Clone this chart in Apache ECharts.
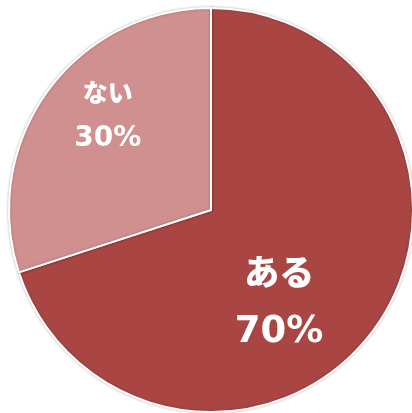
<!DOCTYPE html>
<html>
<head>
<meta charset="utf-8">
<script src="https://cdn.jsdelivr.net/npm/echarts@6/dist/echarts.min.js"></script>
<style>
  html, body { margin: 0; padding: 0; background: #fff; }
  #chart { width: 412px; height: 413px; }
</style>
</head>
<body>
<div id="chart"></div>
<script>
// 回答データ
const names = ['ある', 'ない']
const values = [70, 30]
const colors = ['#A94644', '#D19090']

const chart = echarts.init(document.getElementById('chart'))

// ラベルの大きさと位置（スライスごと）
const labelStyles = [
  { offset: [-16, 31], nameSize: 35, valueSize: 37, nameLH: 60, valueLH: 60 },
  { offset: [-19, -33], nameSize: 25, valueSize: 28, nameLH: 46, valueLH: 46 }
]

const seriesData = names.map((n, i) => {
  const s = labelStyles[i]
  return {
    name: n,
    value: values[i],
    itemStyle: { color: colors[i] },
    label: {
      offset: s.offset,
      rich: {
        n: { fontSize: s.nameSize, lineHeight: s.nameLH, color: '#fff', fontWeight: 900, fontFamily: '"Noto Sans CJK JP", sans-serif' },
        v: { fontSize: s.valueSize, lineHeight: s.valueLH, color: '#fff', fontWeight: 'bold', fontFamily: '"DejaVu Sans", sans-serif' }
      }
    }
  }
})

const option = {
  animation: false,
  series: [
    {
      type: 'pie',
      center: [211, 210],
      radius: [0, 202],
      startAngle: 90,
      clockwise: true,
      itemStyle: {
        borderColor: '#fff',
        borderWidth: 2,
        shadowColor: 'rgba(0,0,0,0.25)',
        shadowBlur: 3
      },
      label: {
        show: true,
        position: 'inside',
        formatter: (p) => '{n|' + p.name + '}\n{v|' + p.value + '%}'
      },
      labelLine: { show: false },
      emphasis: { disabled: true },
      data: seriesData
    }
  ]
}

chart.setOption(option)
</script>
</body>
</html>
